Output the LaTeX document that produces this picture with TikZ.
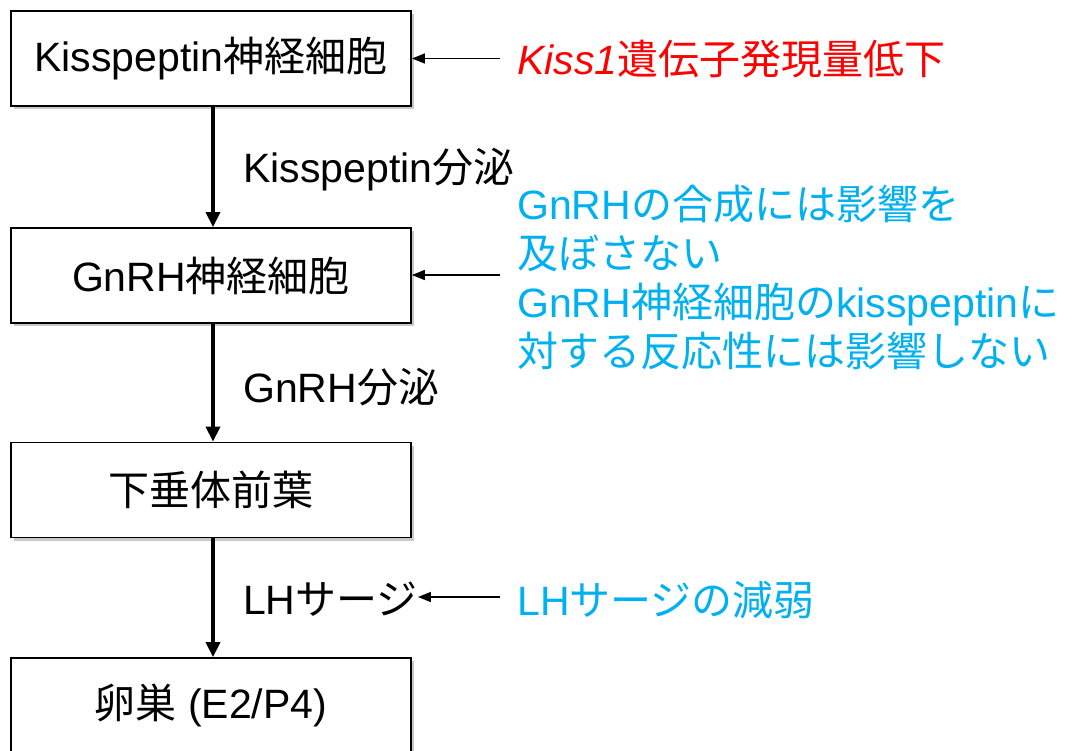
\documentclass[tikz,border=0pt]{standalone}
\usepackage{fontspec}
\setmainfont{Liberation Sans}
\newfontfamily\jpfont{Noto Sans CJK JP}
\newcommand{\J}[1]{{\jpfont #1}}
\usetikzlibrary{arrows.meta,shadows}
\definecolor{myblue}{RGB}{0,176,240}
\definecolor{myred}{RGB}{255,0,0}
\begin{document}
\begin{tikzpicture}[x=1pt,y=-1pt,
  box/.style={draw=black, line width=1.8pt, fill=white, minimum width=400pt, minimum height=95pt, inner sep=0pt,
    font=\fontsize{41}{46}\selectfont,
    drop shadow={shadow xshift=3pt, shadow yshift=-3pt, fill=black!60, opacity=0.35}},
  lbl/.style={anchor=west, inner sep=0pt, font=\fontsize{41}{49}\selectfont},
  varrow/.style={line width=3.6pt, -{Triangle[length=15pt,width=14pt]}},
  harrow/.style={line width=1.6pt, -{Triangle[length=13pt,width=10pt]}}]
\useasboundingbox (0,0) rectangle (1074,751);
\fill[white] (0,0) rectangle (1074,751);
\clip (0,0) rectangle (1074,751);

\node[box] (b1) at (211,58.5) {Kisspeptin\J{神経細胞}};
\node[box] (b2) at (211,275.5) {GnRH\J{神経細胞}};
\node[box] (b3) at (211,490) {\J{下垂体前葉}};
\node[box] (b4) at (211,705.5) {\J{卵巣} (E2/P4)};

\node[lbl] (l1) at (243,170) {Kisspeptin\J{分泌}};
\node[lbl] (l2) at (243,387) {GnRH\J{分泌}};
\node[lbl] (l3) at (243,599) {LH\J{サージ}};

\node[lbl, text=myred] (r1) at (517,59) {\textit{Kiss1}\J{遺伝子発現量低下}};
\node[lbl, text=myblue, align=left] (t2) at (517,277) {GnRH\J{の合成には影響を}\\\J{及ぼさない}\\GnRH\J{神経細胞の}kisspeptin\J{に}\\\J{対する反応性には影響しない}};
\node[lbl, text=myblue] (t3) at (517,600) {LH\J{サージの減弱}};

\coordinate (c1) at (500,58.5);
\coordinate (c2) at (500,275);
\coordinate (c3) at (500,597);

\draw[varrow] ([xshift=2pt]b1.south) -- ([xshift=2pt]b2.north);
\draw[varrow] ([xshift=2pt]b2.south) -- ([xshift=2pt]b3.north);
\draw[varrow] ([xshift=2pt]b3.south) -- ([xshift=2pt]b4.north);

\draw[harrow] (c1) -- (c1 -| b1.east);
\draw[harrow] (c2) -- (c2 -| b2.east);
\draw[harrow] (c3) -- (c3 -| l3.east);
\end{tikzpicture}
\end{document}
